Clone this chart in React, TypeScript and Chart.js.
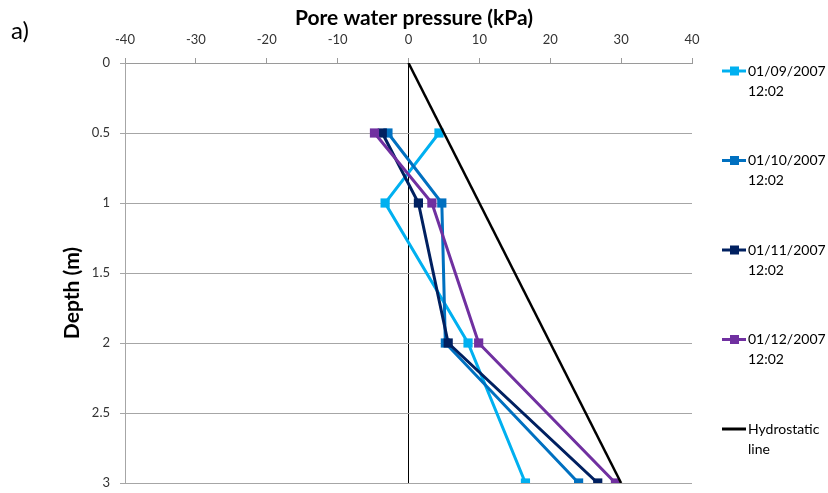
import React, { useEffect, useRef } from 'react';
import { Chart, registerables } from 'chart.js';

Chart.register(...registerables);

const depths = [0.5, 1, 2, 3];
const sep2007 = [4.3, -3.3, 8.4, 16.5];
const oct2007 = [-2.9, 4.7, 5.2, 24.0];
const nov2007 = [-3.7, 1.4, 5.6, 26.7];
const dec2007 = [-4.8, 3.3, 9.9, 29.2];
const hydroDepths = [0, 3];
const hydroPressure = [0, 30];

const seriesLabels = [
  ['01/09/2007', '12:02'],
  ['01/10/2007', '12:02'],
  ['01/11/2007', '12:02'],
  ['01/12/2007', '12:02'],
  ['Hydrostatic', 'line'],
];
const seriesColors = ['#00B0F0', '#0070C0', '#002060', '#7030A0', '#000000'];

const xTitle = 'Pore water pressure (kPa)';
const yTitle = 'Depth (m)';
const panelLabel = 'a)';

const FONT = 'Lato, "Open Sans", sans-serif';

const toPoints = (xs: number[], ys: number[]) => xs.map((x, i) => ({ x, y: ys[i] }));

export default function App() {
  const ref = useRef<HTMLCanvasElement | null>(null);

  useEffect(() => {
    document.body.style.margin = '0';
    const canvas = ref.current;
    if (!canvas) return;

    const series = [sep2007, oct2007, nov2007, dec2007];
    const datasets: any[] = series.map((vals, i) => ({
      label: seriesLabels[i].join(' '),
      data: toPoints(vals, depths),
      borderColor: seriesColors[i],
      backgroundColor: seriesColors[i],
      borderWidth: 3,
      pointStyle: 'rect',
      pointRadius: 6.5,
      pointBorderWidth: 0,
      pointBackgroundColor: seriesColors[i],
      order: 10 - i,
      tension: 0,
    }));
    datasets.push({
      label: seriesLabels[4].join(' '),
      data: toPoints(hydroPressure, hydroDepths),
      borderColor: '#000',
      borderWidth: 2.5,
      pointRadius: 0,
      order: 1,
      tension: 0,
    });

    const overlay = {
      id: 'overlay',
      afterDraw(chart: any) {
        const ctx = chart.ctx;
        ctx.save();
        ctx.fillStyle = '#000';
        ctx.font = `24px ${FONT}`;
        ctx.textAlign = 'left';
        ctx.textBaseline = 'middle';
        ctx.fillText(panelLabel, 11, 31);
        ctx.font = `bold 21px ${FONT}`;
        ctx.textAlign = 'center';
        ctx.fillText(xTitle, 414, 18);
        ctx.save();
        ctx.translate(72, 293);
        ctx.rotate(-Math.PI / 2);
        ctx.fillText(yTitle, 0, 0);
        ctx.restore();
        ctx.font = `14px ${FONT}`;
        ctx.textAlign = 'left';
        seriesLabels.forEach((lines, i) => {
          const y = 71 + i * 89.5;
          ctx.strokeStyle = seriesColors[i];
          ctx.lineWidth = 3;
          ctx.beginPath();
          ctx.moveTo(722, y);
          ctx.lineTo(746, y);
          ctx.stroke();
          if (i < 4) {
            ctx.fillStyle = seriesColors[i];
            ctx.fillRect(730, y - 4.5, 9, 9);
          }
          ctx.fillStyle = '#000';
          lines.forEach((t, k) => ctx.fillText(t, 748, y + k * 20));
        });
        ctx.restore();
      },
    };

    const chart = new Chart(canvas, {
      type: 'line',
      data: { datasets },
      options: {
        animation: false,
        responsive: false,
        maintainAspectRatio: false,
        layout: { padding: { left: 58, top: 4, right: 136, bottom: 10 } },
        plugins: { legend: { display: false }, tooltip: { enabled: false } },
        scales: {
          x: {
            type: 'linear',
            position: 'top',
            min: -40,
            max: 40,
            ticks: { stepSize: 10, color: '#333', padding: 10, font: { family: FONT, size: 13 } },
            grid: {
              drawOnChartArea: true,
              color: (c: any) => (c.tick && c.tick.value === 0 ? '#000' : 'rgba(0,0,0,0)'),
              tickColor: '#9a9a9a',
              tickLength: 5,
              lineWidth: 1,
            },
            border: { display: true, color: '#9a9a9a', width: 1 },
            afterFit: (s: any) => {
              s.height = 59;
              s.paddingLeft = 0;
              s.paddingRight = 0;
            },
          },
          y: {
            type: 'linear',
            reverse: true,
            min: 0,
            max: 3,
            ticks: {
              stepSize: 0.5,
              color: '#333',
              padding: 10,
              font: { family: FONT, size: 13 },
              callback: (v: any) => String(v),
            },
            grid: { color: '#a6a6a6', tickColor: '#a6a6a6', tickLength: 5, lineWidth: 1 },
            border: { display: true, color: '#a6a6a6', width: 1 },
            afterFit: (s: any) => {
              s.width = 67;
              s.paddingTop = 0;
              s.paddingBottom = 0;
            },
          },
        },
      } as any,
      plugins: [overlay],
    });

    return () => chart.destroy();
  }, []);

  return <canvas ref={ref} width={828} height={493} style={{ display: 'block' }} />;
}
